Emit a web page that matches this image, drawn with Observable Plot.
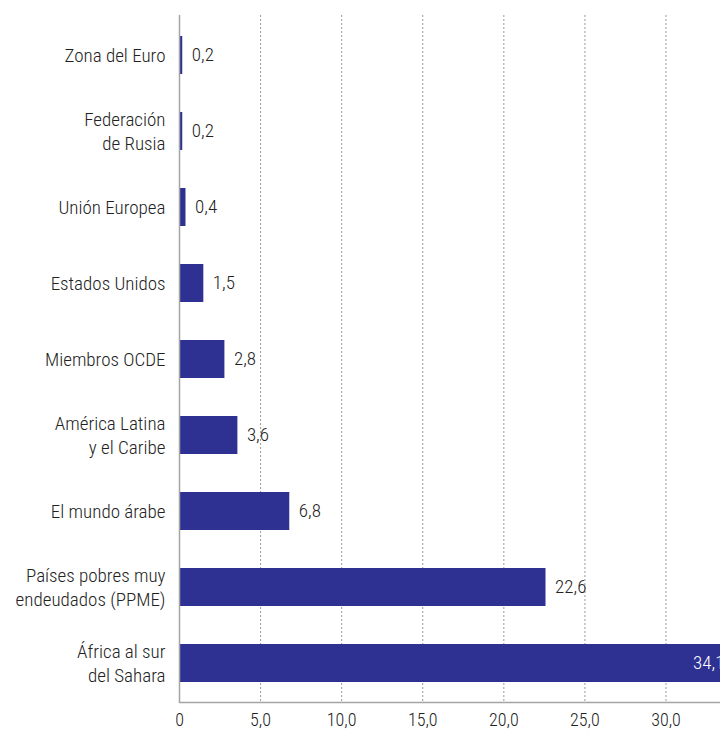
<!DOCTYPE html>
<html><head><meta charset="utf-8">
<script src="https://cdn.jsdelivr.net/npm/d3@7"></script>
<script src="https://cdn.jsdelivr.net/npm/@observablehq/plot@0.6"></script>
<style>html,body{margin:0;padding:0;background:#fff;overflow:hidden}</style>
</head><body><div id="chart"></div>
<script>
const categories = [
  "Zona del Euro",
  "Federación\nde Rusia",
  "Unión Europea",
  "Estados Unidos",
  "Miembros OCDE",
  "América Latina\ny el Caribe",
  "El mundo árabe",
  "Países pobres muy\nendeudados (PPME)",
  "África al sur\ndel Sahara"
];
const values = [0.2, 0.2, 0.4, 1.5, 2.8, 3.6, 6.8, 22.6, 34.1];
const xTicks = [0, 5, 10, 15, 20, 25, 30];
const xMax = 33.36;

const data = categories.map((c, i) => ({category: c, value: values[i]}));
const fmt = v => v.toFixed(1).replace(".", ",");
const tickFmt = v => v === 0 ? "0" : fmt(v);
const inside = d => d.value > xMax - 5;

const chart = Plot.plot({
  width: 720, height: 730,
  marginLeft: 179, marginRight: 0, marginTop: 15, marginBottom: 28,
  style: {fontFamily: "'Roboto Condensed', Roboto, sans-serif", fontSize: "19px", fontWeight: 300, color: "#222", background: "#fff"},
  x: {domain: [0, xMax], axis: null},
  y: {domain: categories, paddingInner: 0.5, paddingOuter: 0.25, axis: null},
  marks: [
    Plot.ruleX(xTicks.filter(d => d > 0), {stroke: "#999", strokeDasharray: "2,2", strokeWidth: 1}),
    Plot.barX(data, {y: "category", x: "value", fill: "#2e3192"}),
    Plot.ruleX([0], {stroke: "#a4a4a4", strokeWidth: 1.5}),
    Plot.frame({anchor: "bottom", stroke: "#a4a4a4", strokeWidth: 1.5}),
    Plot.text(data.filter(d => !inside(d)), {y: "category", x: "value", text: d => fmt(d.value), textAnchor: "start", dx: 9, dy: -1, fill: "#222", fontSize: 19}),
    Plot.text(data.filter(inside), {y: "category", x: "value", text: d => fmt(d.value), textAnchor: "end", dx: -8, dy: -1, fill: "#fff", fontSize: 19}),
    Plot.axisY({tickSize: 0, tickPadding: 14, lineHeight: 1.26, fontSize: 19, dy: -1.5, label: null, fill: "#222"}),
    Plot.axisX({ticks: xTicks, tickFormat: tickFmt, tickSize: 0, tickPadding: 11, fontSize: 18, label: null, fill: "#222"})
  ]
});
document.getElementById("chart").appendChild(chart);
</script>
</body></html>
